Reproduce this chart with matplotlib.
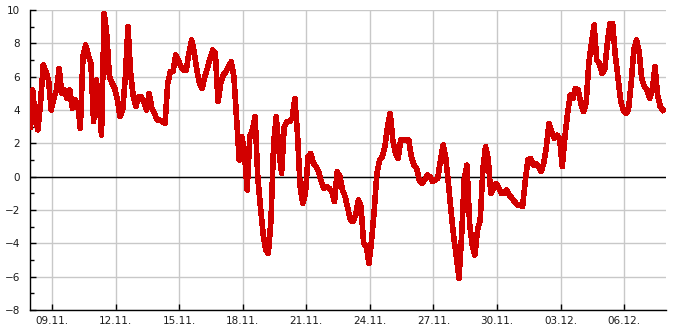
import datetime as dt

import matplotlib
matplotlib.use("Agg")
import matplotlib.pyplot as plt
import matplotlib.dates as mdates
from matplotlib.ticker import MultipleLocator

# 3-hourly readings starting 07.11. 23:00
start = dt.datetime(2023, 11, 7, 23, 0)
step_hours = 3

values = [
    3.0, 5.2, 3.4, 2.8, 4.5, 6.7, 6.3, 5.8, 4.0, 4.7,
    5.2, 6.5, 5.0, 5.2, 4.7, 5.2, 4.1, 4.6, 4.4, 2.9,
    7.2, 7.9, 7.3, 6.8, 3.3, 5.8, 4.8, 2.5, 9.8, 8.5,
    6.0, 5.6, 5.3, 4.6, 3.6, 4.0, 6.0, 9.0, 6.2, 4.8,
    4.2, 4.8, 4.8, 4.5, 4.0, 5.0, 4.1, 3.8, 3.4, 3.4,
    3.3, 3.2, 5.6, 6.3, 6.3, 7.3, 7.0, 6.6, 6.4, 6.4,
    7.4, 8.2, 7.5, 6.4, 5.6, 5.3, 6.0, 6.5, 7.1, 7.6,
    7.4, 4.5, 5.6, 6.1, 6.3, 6.6, 6.9, 6.0, 3.5, 1.0,
    2.4, 1.4, -0.8, 2.4, 2.8, 3.6, 0.0, -1.8, -3.4, -4.4,
    -4.6, -2.6, 2.0, 3.6, 1.6, 0.2, 3.0, 3.3, 3.3, 3.5,
    4.7, 2.6, -0.6, -1.6, -1.0, 1.2, 1.4, 0.8, 0.6, 0.3,
    -0.3, -0.7, -0.6, -0.7, -0.9, -1.5, 0.3, 0.0, -0.8, -1.2,
    -1.9, -2.6, -2.7, -2.3, -1.4, -1.8, -4.0, -4.2, -5.2, -3.8,
    -2.0, 0.2, 1.0, 1.2, 1.8, 3.0, 3.8, 2.2, 1.4, 1.1,
    2.2, 2.2, 2.2, 2.2, 1.2, 0.7, 0.5, -0.2, -0.4, -0.2,
    0.1, 0.0, -0.3, -0.2, -0.1, 1.0, 1.9, 1.1, -0.4, -2.1,
    -3.6, -4.8, -6.1, -3.5, -0.1, 0.7, -2.8, -4.1, -4.7, -3.2,
    -2.6, 0.4, 1.8, 1.1, -1.0, -0.7, -0.4, -0.7, -1.0, -1.0,
    -0.8, -1.1, -1.3, -1.5, -1.7, -1.7, -1.8, -0.3, 1.0, 1.1,
    0.7, 0.8, 0.6, 0.3, 0.8, 1.8, 3.2, 2.7, 2.3, 2.5,
    2.3, 0.6, 2.4, 3.8, 4.9, 4.7, 5.3, 5.2, 4.4, 3.9,
    4.4, 6.8, 8.0, 9.1, 7.0, 6.8, 6.2, 6.4, 8.0, 9.2,
    9.2, 7.3, 6.0, 4.6, 4.0, 3.8, 4.0, 5.6, 7.6, 8.2,
    7.5, 5.9, 5.4, 5.2, 4.7, 5.2, 6.6, 4.9, 4.2, 4.0,
]

times = [start + dt.timedelta(hours=step_hours * i) for i in range(len(values))]

y_min, y_max = -8, 10
x_start = start
x_end = dt.datetime(2023, 12, 7, 23, 30)


def main():
    fig = plt.figure(figsize=(6.85, 3.3), dpi=100)
    ax = fig.add_axes([30 / 685, 20 / 330, 636 / 685, 300 / 330])

    ax.plot(times, values, color="#d20000", linewidth=3.3,
            antialiased=False, zorder=3)
    ax.axhline(0, color="black", linewidth=1.0, zorder=2)

    ax.set_xlim(x_start, x_end)
    ax.set_ylim(y_min, y_max)

    ax.xaxis.set_major_locator(mdates.DayLocator(bymonthday=[3, 6, 9, 12, 15, 18,
                                                             21, 24, 27, 30]))
    ax.xaxis.set_major_formatter(mdates.DateFormatter("%d.%m."))
    ax.yaxis.set_major_locator(MultipleLocator(2))
    ax.yaxis.set_minor_locator(MultipleLocator(1))

    ax.grid(True, which="major", color="#c8c8c8", linewidth=1.0, zorder=1)
    ax.set_axisbelow(True)

    for side in ["top", "right"]:
        ax.spines[side].set_visible(False)
    for side in ["left", "bottom"]:
        ax.spines[side].set_color("black")
        ax.spines[side].set_linewidth(1.0)

    ax.tick_params(axis="both", which="major", direction="in", length=4,
                   width=1, color="black", labelsize=7.5, labelcolor="#1a1a1a")
    ax.tick_params(axis="y", which="minor", direction="in", length=3,
                   width=1, color="black")
    ax.tick_params(axis="y", pad=7)
    ax.tick_params(axis="x", pad=4)

    fig.savefig("out.png", dpi=100)


if __name__ == "__main__":
    main()
